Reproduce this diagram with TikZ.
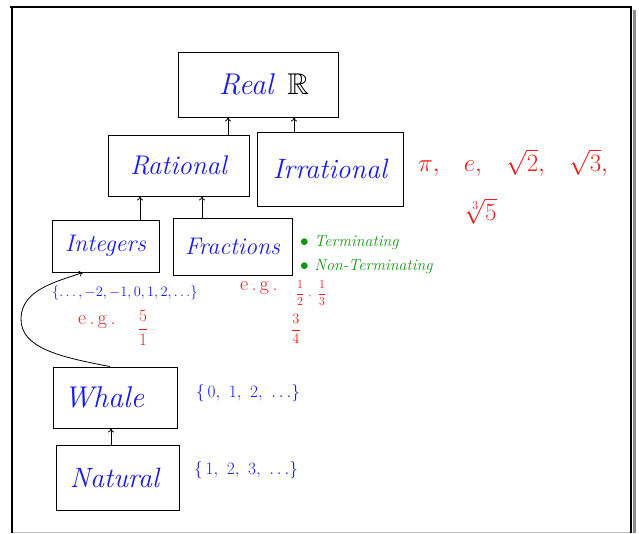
\documentclass[tikz,border=0pt]{standalone}
\usepackage{amsmath,amssymb}
\usetikzlibrary{arrows.meta}
\definecolor{hblue}{RGB}{25,25,240}
\definecolor{hred}{RGB}{240,25,25}
\definecolor{hgreen}{RGB}{20,150,20}
\definecolor{shadowgray}{RGB}{140,140,140}
\definecolor{edgegray}{RGB}{190,190,190}
\begin{document}
\begin{tikzpicture}[x=1pt,y=-1pt,
  setbox/.style={draw=black, line width=0.9pt, inner sep=0pt, text=hblue,
    font=\fontsize{27}{29}\selectfont\itshape},
  arr/.style={-{To[length=4pt,width=6pt]}, line width=0.8pt},
  bluetxt/.style={text=hblue, inner sep=0pt},
  redtxt/.style={text=hred, inner sep=0pt},
  greentxt/.style={text=hgreen, inner sep=0pt, font=\fontsize{16}{18}\selectfont\itshape}]
\useasboundingbox (0,0) rectangle (639,533);
% frame
\fill[white] (12,7) rectangle (631,532);
\draw[line width=3pt, shadowgray] (634,10) -- (634,533);
\draw[line width=1pt, edgegray] (12,532) -- (631,532);
\draw[line width=2pt] (10,7) -- (632,7);
\draw[line width=2pt] (12,7) -- (12,533);
\draw[line width=1.5pt] (631,7) -- (631,533);

% boxes
\node[setbox, minimum width=160pt, minimum height=65pt, font=\fontsize{30}{32}\selectfont\itshape] (real) at (258,84.5)
  {\hspace*{12pt}Real\hspace{14pt}{\color{black}$\mathbb{R}$}};
\node[setbox, minimum width=141pt, minimum height=61pt] (rational) at (178.5,165.5) {Rational};
\node[setbox, minimum width=146pt, minimum height=74pt, font=\fontsize{28}{30}\selectfont\itshape] (irrational) at (330,169) {Irrational};
\node[setbox, minimum width=107pt, minimum height=52pt, font=\fontsize{24}{26}\selectfont\itshape] (integers) at (105.5,246) {Integers};
\node[setbox, minimum width=119pt, minimum height=57pt, font=\fontsize{24}{26}\selectfont\itshape] (fractions) at (232.5,246.5) {Fractions};
\node[setbox, minimum width=124pt, minimum height=61pt, font=\fontsize{30}{32}\selectfont\itshape] (whole) at (115,397.5) {Whale\hspace*{22pt}};
\node[setbox, minimum width=123pt, minimum height=65pt, font=\fontsize{28}{30}\selectfont\itshape] (natural) at (117.5,477.5) {Natural\hspace*{6pt}};

% x positions of connectors
\coordinate (xa) at (228,0);
\coordinate (xb) at (294,0);
\coordinate (xc) at (140,0);
\coordinate (xd) at (202,0);
\coordinate (xe) at (111,0);
\coordinate (xf) at (110,0);
\coordinate (xg) at (83,0);

\draw[arr] (rational.north -| xa) -- (real.south -| xa);
\draw[arr] (irrational.north -| xb) -- (real.south -| xb);
\draw[arr] (integers.north -| xc) -- (rational.south -| xc);
\draw[arr] (fractions.north -| xd) -- (rational.south -| xd);
\draw[arr] (natural.north -| xe) -- (whole.south -| xe);
\draw[arr] (whole.north -| xf) .. controls (60,357) and (20,348) .. (21,318)
  .. controls (22,290) and (55,282) .. (integers.south -| xg);

% annotations
\node[redtxt, font=\fontsize{30}{32}\selectfont, anchor=west] (irrex) at (418,163)
  {$\pi,\hspace{20pt} e,\hspace{20pt} \sqrt{2},\hspace{20pt} \sqrt{3},$};
\node[redtxt, font=\fontsize{26}{28}\selectfont] (cuberoot) at (481,211) {$\sqrt[3]{5}$};

\node[greentxt, anchor=west] (term) at (300,243) {$\bullet$ Terminating};
\node[greentxt, anchor=west] (nonterm) at (300,267) {$\bullet$ Non-Terminating};

\node[bluetxt, font=\fontsize{14.5}{16}\selectfont, anchor=west] (intset) at (52,293)
  {$\{\ldots,-2,-1,0,1,2,\ldots\}$};
\node[redtxt, font=\fontsize{20}{22}\selectfont, anchor=west] (eg1) at (78,322) {e\,.\,g\,.};
\node[redtxt, font=\fontsize{19}{21}\selectfont] (fiveone) at (143,328) {$\dfrac{5}{1}$};
\node[redtxt, font=\fontsize{20}{22}\selectfont, anchor=west] (eg2) at (240,288) {e\,.\,g\,.};
\node[redtxt, font=\fontsize{13}{15}\selectfont] (halfthird) at (311,293) {$\dfrac{1}{2}\ ,\ \dfrac{1}{3}$};
\node[redtxt, font=\fontsize{14}{16}\selectfont] (threefour) at (296,329) {$\dfrac{3}{4}$};

\node[bluetxt, font=\fontsize{19}{21}\selectfont, anchor=west] (wholeset) at (196,393)
  {$\{\,0,\ 1,\ 2,\ \ldots\}$};
\node[bluetxt, font=\fontsize{19}{21}\selectfont, anchor=west] (natset) at (194,470)
  {$\{\,1,\ 2,\ 3,\ \ldots\}$};
\end{tikzpicture}
\end{document}
